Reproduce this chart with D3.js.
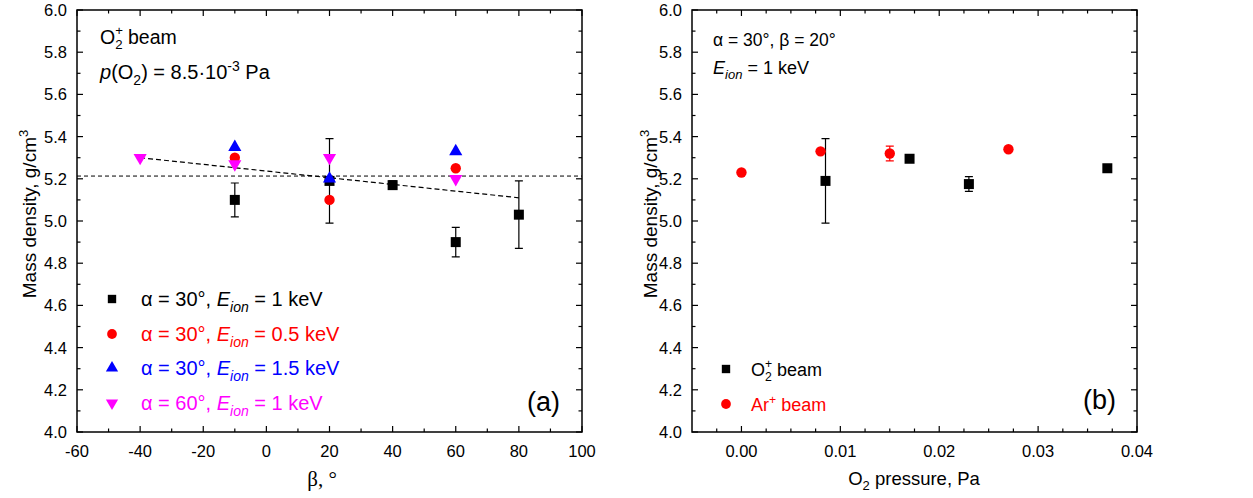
<!DOCTYPE html>
<html>
<head>
<meta charset="utf-8">
<script src="https://cdn.jsdelivr.net/npm/d3@7"></script>
<style>
  body { margin: 0; background: #fff; }
  text { font-family: Arial, "Liberation Sans", sans-serif; }
</style>
</head>
<body>
<svg id="chart" width="1253" height="498"></svg>
<script>
// panel (a): density vs beta
const betaA1 = [-10, 20, 40, 60, 80]          // alpha=30, E=1 keV
const rhoA1  = [5.10, 5.19, 5.17, 4.90, 5.03]
const errA1  = [0.08, 0.20, 0.02, 0.07, 0.16]
const betaA2 = [-10, 20, 60]                  // alpha=30, E=0.5 keV
const rhoA2  = [5.30, 5.10, 5.25]
const betaA3 = [-10, 20, 60]                  // alpha=30, E=1.5 keV
const rhoA3  = [5.35, 5.20, 5.33]
const betaA4 = [-40, -10, 20, 60]             // alpha=60, E=1 keV
const rhoA4  = [5.30, 5.27, 5.30, 5.20]
const meanLine = 5.213
const fitX = [-40, 80]
const fitY = [5.30, 5.11]

// panel (b): density vs O2 pressure
const pO2 = [0.0085, 0.017, 0.023, 0.037]     // O2+ beam
const rhoO2 = [5.19, 5.295, 5.175, 5.25]
const errO2 = [0.20, 0, 0.035, 0]
const pAr = [0, 0.008, 0.015, 0.027]          // Ar+ beam
const rhoAr = [5.23, 5.33, 5.32, 5.34]
const errAr = [0, 0, 0.035, 0]

const svg = d3.select('#chart')

const y = d3.scaleLinear().domain([4.0, 6.0]).range([432, 10])
const xa = d3.scaleLinear().domain([-60, 100]).range([77, 582])
const xb = d3.scaleLinear().domain([-0.005, 0.04]).range([692, 1137])

const yMajor = d3.range(4.0, 6.001, 0.2)
const yMinor = d3.range(4.1, 6.0, 0.2)

function frame(x, xMajor, xMinor, fmt, titleX) {
  const [x0, x1] = x.range()
  const [y0, y1] = y.range()
  const g = svg.append('g')
  // ticks inward on all sides
  const tk = (list, len) => {
    list.forEach(v => {
      const px = x(v)
      g.append('line').attr('x1', px).attr('x2', px).attr('y1', y0).attr('y2', y0 - len)
      g.append('line').attr('x1', px).attr('x2', px).attr('y1', y1).attr('y2', y1 + len)
    })
  }
  tk(xMajor, 6); tk(xMinor, 3.5)
  const tky = (list, len) => {
    list.forEach(v => {
      const py = y(v)
      g.append('line').attr('x1', x0).attr('x2', x0 + len).attr('y1', py).attr('y2', py)
      g.append('line').attr('x1', x1).attr('x2', x1 - len).attr('y1', py).attr('y2', py)
    })
  }
  tky(yMajor, 6); tky(yMinor, 3.5)
  g.selectAll('line').attr('stroke', '#000').attr('stroke-width', 1.2)
  g.append('rect').attr('x', x0).attr('y', y1).attr('width', x1 - x0).attr('height', y0 - y1)
    .attr('fill', 'none').attr('stroke', '#000').attr('stroke-width', 1.5)

  g.selectAll('text.xt').data(xMajor).enter().append('text')
    .attr('x', d => x(d)).attr('y', 457).attr('text-anchor', 'middle')
    .attr('font-size', 16.5).text(fmt)
  g.selectAll('text.yt').data(yMajor).enter().append('text')
    .attr('x', x0 - 10).attr('y', d => y(d) + 6).attr('text-anchor', 'end')
    .attr('font-size', 16.5).text(d => d.toFixed(1))
  const yt = g.append('text')
    .attr('transform', `translate(${titleX},214) rotate(-90)`)
    .attr('text-anchor', 'middle').attr('font-size', 19)
  yt.append('tspan').text('Mass density, g/cm')
  yt.append('tspan').attr('font-size', 13).attr('dy', -8).text('3')
}

frame(xa, d3.range(-60, 101, 20), d3.range(-50, 100, 20), d => d, 36)
frame(xb, [0, 0.01, 0.02, 0.03, 0.04],
  d3.range(-0.0025, 0.04, 0.0025).filter(v => Math.abs(v / 0.01 - Math.round(v / 0.01)) > 0.01),
  d => d.toFixed(2), 657)

// axis titles
svg.append('text').attr('x', 322).attr('y', 486).attr('text-anchor', 'middle')
  .attr('font-size', 21).style('font-family', '"Liberation Serif", "Times New Roman", serif')
  .text('β, °')
const xbt = svg.append('text').attr('x', 914).attr('y', 485).attr('text-anchor', 'middle').attr('font-size', 18.5)
xbt.append('tspan').text('O')
xbt.append('tspan').attr('font-size', 13).attr('dy', 5).text('2')
xbt.append('tspan').attr('dy', -5).text(' pressure, Pa')

const sym = (type, size) => d3.symbol().type(type).size(size)()
const triDown = { draw(ctx, size) { const s = Math.sqrt(size / (Math.sqrt(3) / 4)) ; const h = s * Math.sqrt(3) / 2
  ctx.moveTo(-s / 2, -h / 3); ctx.lineTo(s / 2, -h / 3); ctx.lineTo(0, 2 * h / 3); ctx.closePath() } }
const triUp = { draw(ctx, size) { const s = Math.sqrt(size / (Math.sqrt(3) / 4)) ; const h = s * Math.sqrt(3) / 2
  ctx.moveTo(-s / 2, h / 3); ctx.lineTo(s / 2, h / 3); ctx.lineTo(0, -2 * h / 3); ctx.closePath() } }

function errorBars(x, xs, ys, es, color) {
  xs.forEach((v, i) => {
    if (!es[i]) return
    const px = x(v), t = y(ys[i] + es[i]), b = y(ys[i] - es[i])
    svg.append('path').attr('d', `M${px},${t}V${b}M${px - 4},${t}H${px + 4}M${px - 4},${b}H${px + 4}`)
      .attr('stroke', color).attr('stroke-width', 1.2).attr('fill', 'none')
  })
}
function points(x, xs, ys, type, size, color) {
  svg.append('g').selectAll('path').data(xs).enter().append('path')
    .attr('d', sym(type, size))
    .attr('transform', (d, i) => `translate(${x(d)},${y(ys[i])})`)
    .attr('fill', color)
}

// panel (a)
svg.append('line').attr('x1', xa(-60)).attr('x2', xa(100))
  .attr('y1', y(meanLine)).attr('y2', y(meanLine))
  .attr('stroke', '#000').attr('stroke-width', 1).attr('stroke-dasharray', '4,3')
svg.append('line').attr('x1', xa(fitX[0])).attr('x2', xa(fitX[1]))
  .attr('y1', y(fitY[0])).attr('y2', y(fitY[1]))
  .attr('stroke', '#000').attr('stroke-width', 1.2).attr('stroke-dasharray', '5,3')

errorBars(xa, betaA1, rhoA1, errA1, '#000')
points(xa, betaA1, rhoA1, d3.symbolSquare, 100, '#000')
points(xa, betaA2, rhoA2, d3.symbolCircle, 85, '#ff0000')
points(xa, betaA3, rhoA3, triUp, 75, '#0000ff')
points(xa, betaA4, rhoA4, triDown, 75, '#ff00ff')

// panel (b)
errorBars(xb, pO2, rhoO2, errO2, '#000')
errorBars(xb, pAr, rhoAr, errAr, '#ff0000')
points(xb, pO2, rhoO2, d3.symbolSquare, 100, '#000')
points(xb, pAr, rhoAr, d3.symbolCircle, 85, '#ff0000')

// annotations
function beamLabel(x, yy, ion, color, size) {
  const t = svg.append('text').attr('x', x).attr('y', yy).attr('font-size', size).attr('fill', color)
  const s = size * 0.68
  if (ion === 'O2') {
    t.append('tspan').text('O')
    t.append('tspan').attr('font-size', s).attr('dy', -size * 0.45).text('+')
    t.append('tspan').attr('font-size', s).attr('dx', -s * 0.58).attr('dy', size * 0.72).text('2')
    t.append('tspan').attr('dy', -size * 0.27).text(' beam')
  } else {
    t.append('tspan').text('Ar')
    t.append('tspan').attr('font-size', s).attr('dy', -size * 0.4).text('+')
    t.append('tspan').attr('dy', size * 0.4).text(' beam')
  }
}
beamLabel(100, 44, 'O2', '#000', 19.5)
const pt = svg.append('text').attr('x', 100).attr('y', 79).attr('font-size', 20)
pt.append('tspan').attr('font-style', 'italic').text('p')
pt.append('tspan').text('(O')
pt.append('tspan').attr('font-size', 14).attr('dy', 6).text('2')
pt.append('tspan').attr('dy', -6).text(') = 8.5·10')
pt.append('tspan').attr('font-size', 14).attr('dy', -8).text('-3')
pt.append('tspan').attr('dy', 8).text(' Pa')

const legA = [
  { a: '30', e: '1', color: '#000', type: d3.symbolSquare, size: 70 },
  { a: '30', e: '0.5', color: '#ff0000', type: d3.symbolCircle, size: 75 },
  { a: '30', e: '1.5', color: '#0000ff', type: triUp, size: 65 },
  { a: '60', e: '1', color: '#ff00ff', type: triDown, size: 65 }
]
const legY = [299, 334, 368, 403]
legA.forEach((d, i) => {
  svg.append('path').attr('d', sym(d.type, d.size))
    .attr('transform', `translate(112,${legY[i]})`).attr('fill', d.color)
  const t = svg.append('text').attr('x', 141).attr('y', legY[i] + 7).attr('font-size', 20).attr('fill', d.color)
  t.append('tspan').text(`α = ${d.a}°, `)
  t.append('tspan').attr('font-style', 'italic').text('E')
  t.append('tspan').attr('font-style', 'italic').attr('font-size', 14).attr('dy', 6).text('ion')
  t.append('tspan').attr('dy', -6).text(` = ${d.e} keV`)
})
svg.append('text').attr('x', 560).attr('y', 411).attr('text-anchor', 'end').attr('font-size', 27).text('(a)')

svg.append('text').attr('x', 713).attr('y', 46).attr('font-size', 17.5).text('α = 30°, β = 20°')
const et = svg.append('text').attr('x', 713).attr('y', 74).attr('font-size', 18)
et.append('tspan').attr('font-style', 'italic').text('E')
et.append('tspan').attr('font-style', 'italic').attr('font-size', 13).attr('dy', 5).text('ion')
et.append('tspan').attr('dy', -5).text(' = 1 keV')

svg.append('path').attr('d', sym(d3.symbolSquare, 70)).attr('transform', 'translate(726,369)').attr('fill', '#000')
beamLabel(751, 376, 'O2', '#000', 18)
svg.append('path').attr('d', sym(d3.symbolCircle, 75)).attr('transform', 'translate(726,404)').attr('fill', '#ff0000')
beamLabel(751, 411, 'Ar', '#ff0000', 18)
svg.append('text').attr('x', 1116).attr('y', 409).attr('text-anchor', 'end').attr('font-size', 27).text('(b)')
</script>
</body>
</html>
